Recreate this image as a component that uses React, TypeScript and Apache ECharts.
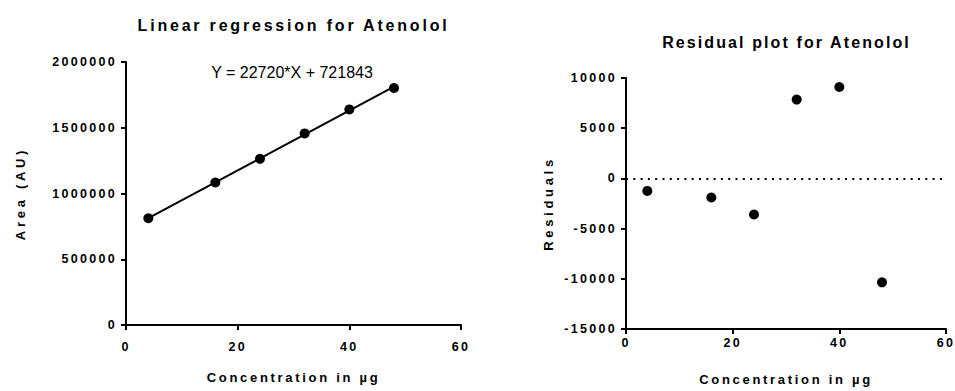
import React, { useEffect, useRef } from 'react';
import * as echarts from 'echarts';

// ---- Data ----
const concentration = [4, 16, 24, 32, 40, 48];
const area = [811500, 1083500, 1263500, 1456700, 1639700, 1802100];
const residuals = [-1250, -1900, -3600, 7850, 9100, -10350];
const SLOPE = 22720;
const INTERCEPT = 721843;
const leftTitle = 'Linear regression for Atenolol';
const rightTitle = 'Residual plot for Atenolol';
const equation = 'Y = 22720*X + 721843';
const xName = 'Concentration in µg';
const leftYName = 'Area (AU)';
const rightYName = 'Residuals';

const FONT = 'Liberation Sans, Arial, sans-serif';
const spaced = (px: number) => `${FONT};letter-spacing:${px}px`;

const areaPoints = concentration.map((x, i) => [x, area[i]]);
const residualPoints = concentration.map((x, i) => [x, residuals[i]]);
const xFirst = concentration[0];
const xLast = concentration[concentration.length - 1];
const fitLine = [
  [xFirst, SLOPE * xFirst + INTERCEPT],
  [xLast, SLOPE * xLast + INTERCEPT],
];

const axisLine = { show: true, onZero: false, lineStyle: { color: '#000', width: 2, opacity: 1 } };
const axisTick = { show: true, inside: false, length: 5, lineStyle: { color: '#000', width: 2 } };
const tickLabel = (margin: number) => ({
  margin,
  color: '#000',
  fontSize: 12.5,
  fontWeight: 'bold' as const,
  fontFamily: spaced(2.3),
  formatter: (v: number) => String(v),
});
const xNameStyle = {
  color: '#000',
  fontSize: 13,
  fontWeight: 'bold' as const,
  fontFamily: spaced(2.7),
};
const yNameStyle = {
  color: '#000',
  fontSize: 13,
  fontWeight: 'bold' as const,
  fontFamily: spaced(3.7),
};

const option: any = {
  animation: false,
  backgroundColor: '#fff',
  grid: [
    { left: 126, top: 62, width: 335, height: 263 },
    { left: 626, top: 78, width: 320, height: 251 },
  ],
  xAxis: [
    {
      type: 'value', gridIndex: 0, min: 0, max: 60, interval: 20,
      axisLine, axisTick, axisLabel: tickLabel(17), splitLine: { show: false },
      name: xName, nameLocation: 'middle', nameGap: 47, nameTextStyle: xNameStyle,
    },
    {
      type: 'value', gridIndex: 1, min: 0, max: 60, interval: 20,
      axisLine, axisTick, axisLabel: tickLabel(9), splitLine: { show: false },
      name: xName, nameLocation: 'middle', nameGap: 45, nameTextStyle: xNameStyle,
    },
  ],
  yAxis: [
    {
      type: 'value', gridIndex: 0, min: 0, max: 2000000, interval: 500000,
      axisLine, axisTick, axisLabel: tickLabel(9), splitLine: { show: false },
      name: leftYName, nameLocation: 'middle', nameGap: 101, nameTextStyle: yNameStyle,
    },
    {
      type: 'value', gridIndex: 1, min: -15000, max: 10000, interval: 5000,
      axisLine, axisTick, axisLabel: tickLabel(9), splitLine: { show: false },
      name: rightYName, nameLocation: 'middle', nameGap: 73, nameTextStyle: yNameStyle,
    },
  ],
  series: [
    {
      type: 'line', xAxisIndex: 0, yAxisIndex: 0, data: fitLine,
      showSymbol: false, symbol: 'none',
      lineStyle: { color: '#000', width: 2 }, silent: true, z: 2,
    },
    {
      type: 'scatter', xAxisIndex: 0, yAxisIndex: 0, data: areaPoints,
      symbol: 'circle', symbolSize: 10, itemStyle: { color: '#000', opacity: 1 }, z: 3,
    },
    {
      type: 'scatter', xAxisIndex: 1, yAxisIndex: 1, data: residualPoints,
      symbol: 'circle', symbolSize: 10, itemStyle: { color: '#000', opacity: 1 }, z: 3,
      markLine: {
        silent: true, symbol: 'none', label: { show: false },
        lineStyle: { color: '#000', type: [2, 5.3], width: 2 },
        data: [{ yAxis: 0 }],
      },
    },
  ],
  graphic: [
    {
      type: 'text', x: 293.5, y: 25,
      style: {
        text: leftTitle, fill: '#000', fontSize: 16, fontWeight: 'bold',
        fontFamily: spaced(2.8), textAlign: 'center', textVerticalAlign: 'middle',
      },
    },
    {
      type: 'text', x: 786.5, y: 42.5,
      style: {
        text: rightTitle, fill: '#000', fontSize: 16, fontWeight: 'bold',
        fontFamily: spaced(2.1), textAlign: 'center', textVerticalAlign: 'middle',
      },
    },
    {
      type: 'text', x: 292, y: 72.5,
      style: {
        text: equation, fill: '#000', fontSize: 16, fontFamily: FONT,
        textAlign: 'center', textVerticalAlign: 'middle',
      },
    },
  ],
};

export default function App() {
  const ref = useRef<HTMLDivElement>(null);
  useEffect(() => {
    document.body.style.margin = '0';
    const chart = echarts.init(ref.current!, null, { renderer: 'svg' });
    chart.setOption(option);
    return () => chart.dispose();
  }, []);
  return <div ref={ref} style={{ width: 955, height: 391 }} />;
}
